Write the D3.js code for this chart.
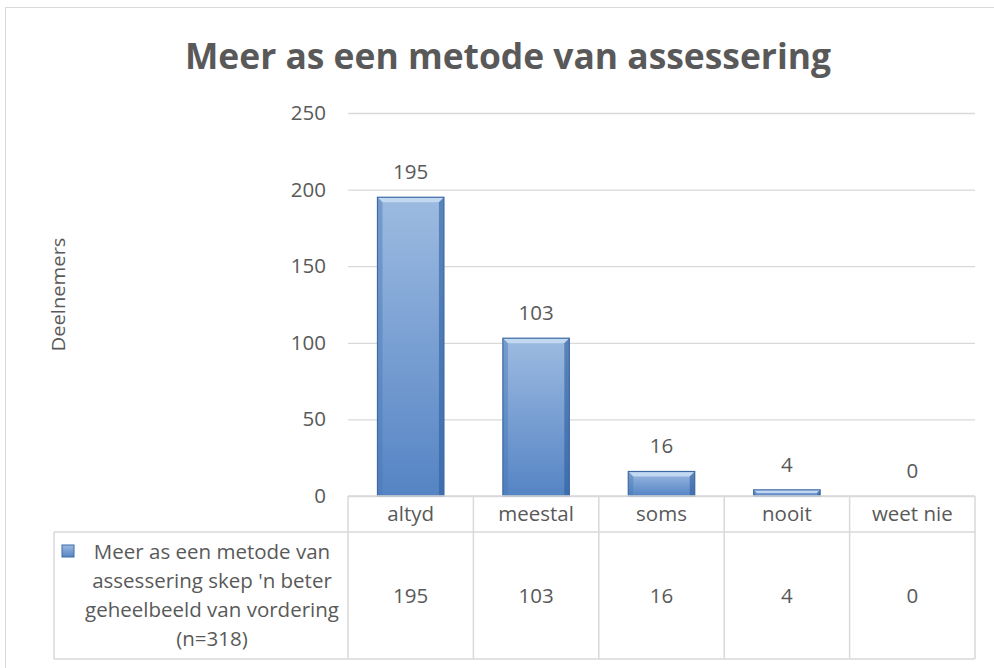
<!DOCTYPE html>
<html>
<head>
<meta charset="utf-8">
<script src="https://cdn.jsdelivr.net/npm/d3@7"></script>
<style>
  body { margin: 0; background: #fff; }
  text { font-family: "Open Sans", "Noto Sans", sans-serif; fill: #595959; }
</style>
</head>
<body>
<div id="chart"></div>
<script>
// chart values
const categories = ['altyd', 'meestal', 'soms', 'nooit', 'weet nie'];
const values = [195, 103, 16, 4, 0];
const yTicks = [0, 50, 100, 150, 200, 250];
const seriesName = ['Meer as een metode van', 'assessering skep \'n beter', 'geheelbeeld van vordering', '(n=318)'];
const title = 'Meer as een metode van assessering';
const yTitle = 'Deelnemers';

const width = 994, height = 668;
const margin = {top: 113, right: 19, bottom: 172, left: 348};
const tableRow1 = 36, tableLeft = 54;
const fs = 20.5;

const svg = d3.select('#chart').append('svg')
  .attr('width', width)
  .attr('height', height);

// gradient for the bars
const defs = svg.append('defs');
const grad = defs.append('linearGradient')
  .attr('id', 'barGrad').attr('x1', 0).attr('y1', 0).attr('x2', 0).attr('y2', 1);
grad.append('stop').attr('offset', '0%').attr('stop-color', '#9dbbe1');
grad.append('stop').attr('offset', '100%').attr('stop-color', '#5584c4');

// outer chart border
svg.append('rect')
  .attr('x', 5.5).attr('y', 7.5)
  .attr('width', 1000).attr('height', 700)
  .attr('fill', 'none').attr('stroke', '#d9d9d9');

const x = d3.scaleBand()
  .domain(categories)
  .range([margin.left, width - margin.right]);

const y = d3.scaleLinear()
  .domain([0, 250])
  .range([height - margin.bottom, margin.top]);

// gridlines + tick labels
const yAxis = d3.axisLeft(y)
  .tickValues(yTicks)
  .tickSize(-(x.range()[1] - x.range()[0]))
  .tickPadding(22);

svg.append('g')
  .attr('transform', `translate(${margin.left},0)`)
  .call(yAxis)
  .call(g => g.select('.domain').remove())
  .call(g => g.selectAll('.tick line').attr('stroke', '#d9d9d9').attr('stroke-width', 1.3))
  .call(g => g.selectAll('.tick text')
    .attr('font-size', fs).attr('fill', '#595959')
    .style('font-family', '"Open Sans", sans-serif'));

// title
svg.append('text')
  .attr('x', 508).attr('y', 69)
  .attr('text-anchor', 'middle')
  .attr('font-size', 36).attr('font-weight', 'bold')
  .attr('textLength', 646).attr('lengthAdjust', 'spacingAndGlyphs')
  .text(title);

// y axis title
svg.append('text')
  .attr('transform', `translate(65,${(y(0) + y(250)) / 2 - 10}) rotate(-90)`)
  .attr('text-anchor', 'middle')
  .attr('font-size', 19)
  .attr('textLength', 114).attr('lengthAdjust', 'spacingAndGlyphs')
  .text(yTitle);

// bars
const barW = x.bandwidth() * 0.53;
const bev = 5;
const bars = svg.append('g').selectAll('g.bar')
  .data(values.map((v, i) => ({cat: categories[i], v})))
  .join('g').attr('class', 'bar');

bars.each(function(d) {
  if (d.v <= 0) return;
  const g = d3.select(this);
  const x0 = x(d.cat) + (x.bandwidth() - barW) / 2, x1 = x0 + barW;
  const y0 = y(d.v), y1 = y(0);
  const b = Math.min(bev, (y1 - y0) / 2);
  g.append('rect')
    .attr('x', x0).attr('y', y0)
    .attr('width', barW).attr('height', y1 - y0)
    .attr('fill', 'url(#barGrad)');
  // bevels
  g.append('polygon')
    .attr('points', [[x0, y0], [x1, y0], [x1 - b, y0 + b], [x0 + b, y0 + b]].join(' '))
    .attr('fill', '#c8dbf3').attr('opacity', 0.9);
  g.append('polygon')
    .attr('points', [[x0, y0], [x0 + b, y0 + b], [x0 + b, y1], [x0, y1]].join(' '))
    .attr('fill', '#4a78b5').attr('opacity', 0.45);
  g.append('polygon')
    .attr('points', [[x1, y0], [x1 - b, y0 + b], [x1 - b, y1], [x1, y1]].join(' '))
    .attr('fill', '#2f5f9e').attr('opacity', 0.6);
  g.append('rect')
    .attr('x', x0).attr('y', y0)
    .attr('width', barW).attr('height', y1 - y0)
    .attr('fill', 'none').attr('stroke', '#3d6aa5').attr('stroke-width', 1.2);
});

// data labels
bars.append('text')
  .attr('x', d => x(d.cat) + x.bandwidth() / 2)
  .attr('y', d => y(d.v) - 18)
  .attr('text-anchor', 'middle')
  .attr('font-size', fs)
  .text(d => d.v);

// data table
const tTop = y(0), tMid = tTop + tableRow1, tBot = height - 9;
const table = svg.append('g').attr('stroke', '#d9d9d9').attr('stroke-width', 1.5);
table.append('line').attr('x1', x.range()[0]).attr('x2', x.range()[1]).attr('y1', tTop).attr('y2', tTop);
table.append('line').attr('x1', tableLeft).attr('x2', x.range()[1]).attr('y1', tMid).attr('y2', tMid);
table.append('line').attr('x1', tableLeft).attr('x2', x.range()[1]).attr('y1', tBot).attr('y2', tBot);
table.append('line').attr('x1', tableLeft).attr('x2', tableLeft).attr('y1', tMid).attr('y2', tBot);
table.selectAll('line.col')
  .data(categories.map(c => x(c)).concat([x.range()[1]]))
  .join('line').attr('class', 'col')
  .attr('x1', d => d).attr('x2', d => d)
  .attr('y1', tTop).attr('y2', tBot);

svg.append('g').selectAll('text')
  .data(categories)
  .join('text')
  .attr('x', d => x(d) + x.bandwidth() / 2)
  .attr('y', tTop + tableRow1 / 2 + 7)
  .attr('text-anchor', 'middle')
  .attr('font-size', fs)
  .text(d => d);

svg.append('g').selectAll('text')
  .data(values.map((v, i) => ({cat: categories[i], v})))
  .join('text')
  .attr('x', d => x(d.cat) + x.bandwidth() / 2)
  .attr('y', (tMid + tBot) / 2 + 7)
  .attr('text-anchor', 'middle')
  .attr('font-size', fs)
  .text(d => d.v);

// legend key + series name
const legX = (tableLeft + x.range()[0]) / 2 + 11;
svg.append('rect')
  .attr('x', 62).attr('y', 545).attr('width', 12).attr('height', 12)
  .attr('fill', 'url(#barGrad)').attr('stroke', '#3d6aa5');
svg.append('g').selectAll('text')
  .data(seriesName)
  .join('text')
  .attr('x', legX)
  .attr('y', (d, i) => 559 + i * 29)
  .attr('text-anchor', 'middle')
  .attr('font-size', fs)
  .text(d => d);
</script>
</body>
</html>
